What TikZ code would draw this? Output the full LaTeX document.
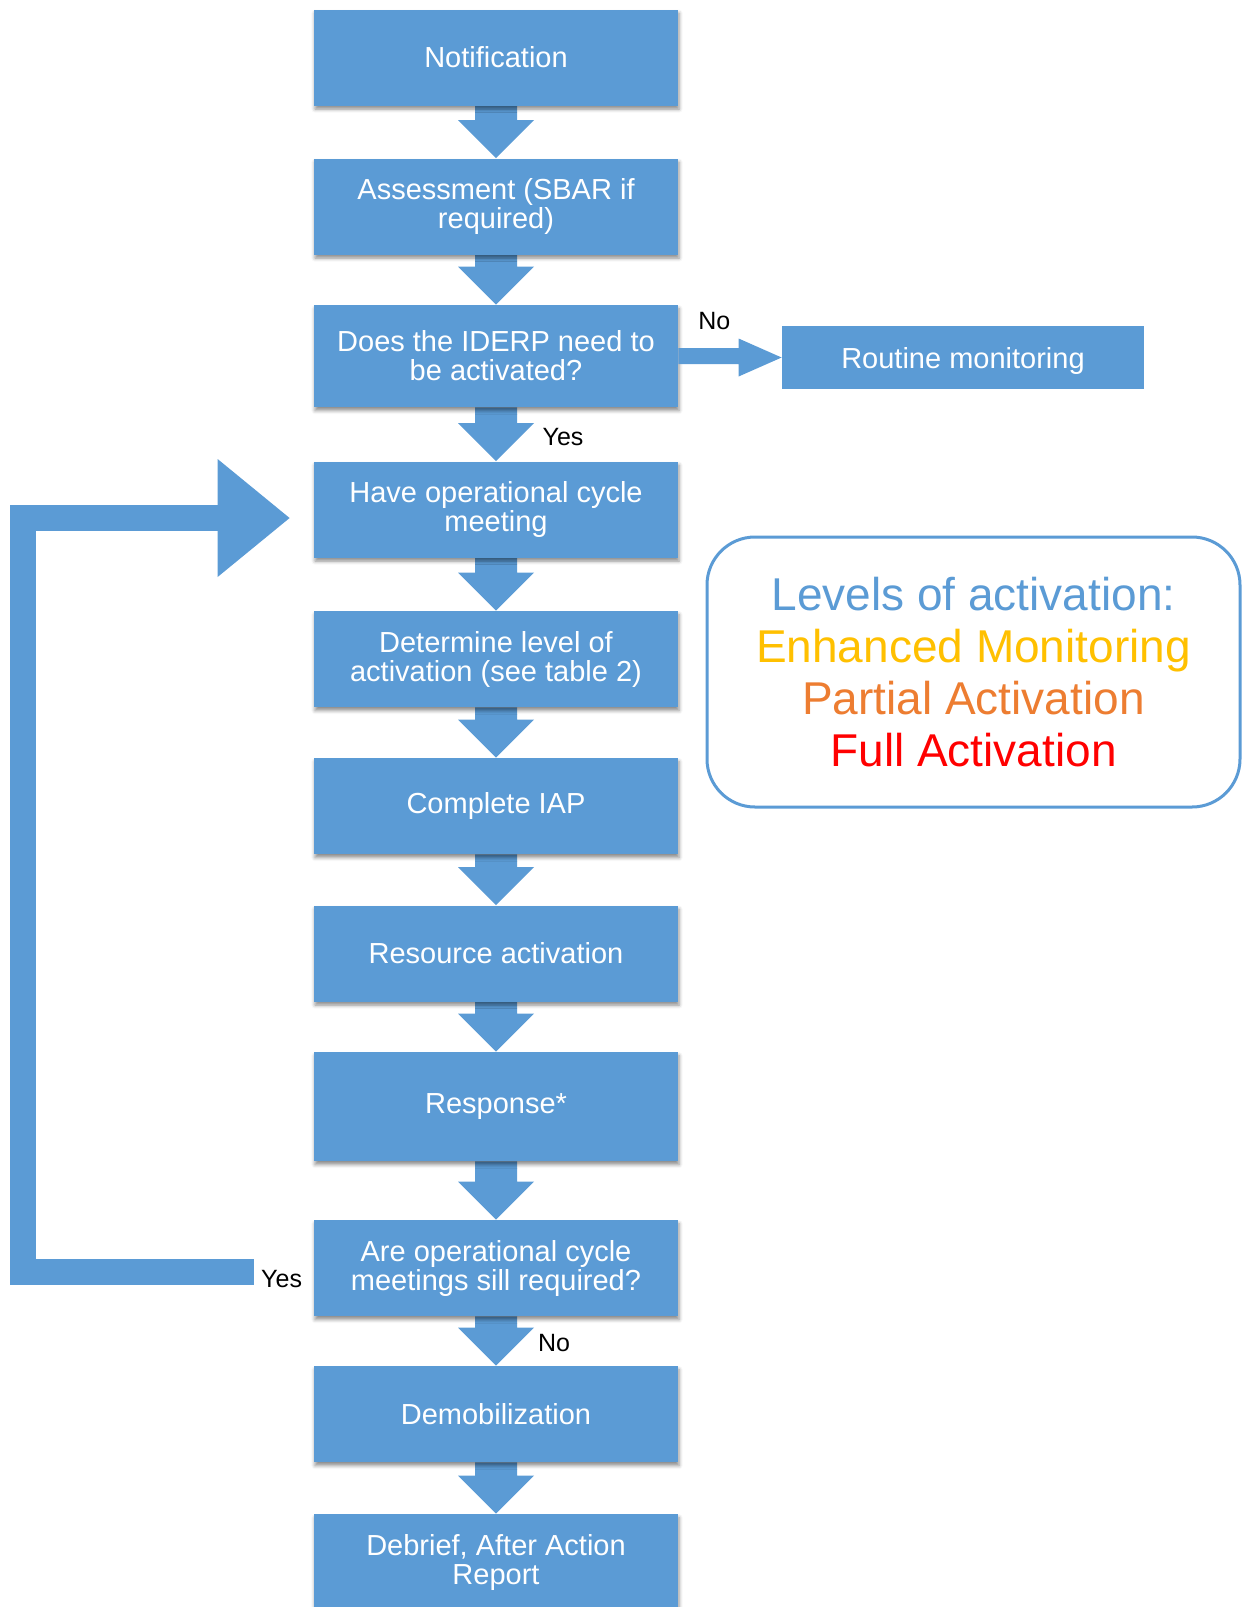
\documentclass[tikz,border=0pt]{standalone}
\usepackage{fontspec}
\setmainfont{Liberation Sans}
\usetikzlibrary{calc,shadows.blur,backgrounds}
\definecolor{boxblue}{HTML}{5B9BD5}
\definecolor{lvgold}{HTML}{FFC000}
\definecolor{lvorange}{HTML}{ED7D31}
\definecolor{lvred}{HTML}{FF0000}
\tikzset{
 stepbox/.style={fill=boxblue, text=white, minimum width=182pt, minimum height=48pt, inner sep=2pt, align=center,
   font=\fontsize{14.5}{14.5}\selectfont,
   blur shadow={shadow xshift=0.5pt, shadow yshift=-1.8pt, shadow blur radius=1.8pt, shadow opacity=45}},
 plainbox/.style={fill=boxblue, text=white, minimum width=181pt, minimum height=31.5pt, inner sep=2pt, align=center,
   text depth=0pt, font=\fontsize{14.5}{14.5}\selectfont},
 lbl/.style={text=black, font=\fontsize{12.5}{13}\selectfont, inner sep=0pt},
 arrowfill/.style={fill=boxblue},
 levelsbox/.style={draw=boxblue, fill=white, line width=1.5pt, rounded corners=24pt, minimum width=266.5pt,
   minimum height=135pt, align=center, font=\fontsize{23}{26}\selectfont},
}
\newcommand\blockdown[2]{%
  \fill[arrowfill] ($(#1.south)+(-21,0)$) -- ($(#2.north)+(-21,-38)$) -- ($(#2.north)+(-38,-38)$) -- (#2.north)
    -- ($(#2.north)+(38,-38)$) -- ($(#2.north)+(21,-38)$) -- ($(#1.south)+(21,0)$) -- cycle;}
\begin{document}
\begin{tikzpicture}[x=0.5pt, y=-0.5pt]
\useasboundingbox (0,0) rectangle (1244,1607);

\node[stepbox] (notif) at (496,57.5) {Notification};
\node[stepbox] (assess) at (496,206.5) {Assessment (SBAR if\\required)};
\node[stepbox, minimum height=51pt] (iderp) at (496,356) {Does the IDERP need to\\be activated?};
\node[stepbox] (haveop) at (496,509.5) {Have operational cycle\\meeting};
\node[stepbox] (determine) at (496,659) {Determine level of\\activation (see table 2)};
\node[stepbox] (iap) at (496,806) {Complete IAP};
\node[stepbox] (resource) at (496,953.5) {Resource activation};
\node[stepbox, minimum height=54.5pt] (response) at (496,1106.5) {Response*};
\node[stepbox] (areop) at (496,1268) {Are operational cycle\\meetings sill required?};
\node[stepbox] (demob) at (496,1414) {Demobilization};
\node[stepbox] (debrief) at (496,1562) {Debrief, After Action\\Report};

\node[plainbox] (routine) at (963,357.5) {Routine monitoring};

\node[levelsbox] (levels) at (973.5,672) {\textcolor{boxblue}{Levels of activation:}\\
  \textcolor{lvgold}{Enhanced Monitoring}\\
  \textcolor{lvorange}{Partial Activation}\\
  \textcolor{lvred}{Full Activation}};

\begin{scope}[on background layer]
\blockdown{notif}{assess}
\blockdown{assess}{iderp}
\blockdown{iderp}{haveop}
\blockdown{haveop}{determine}
\blockdown{determine}{iap}
\blockdown{iap}{resource}
\blockdown{resource}{response}
\blockdown{response}{areop}
\blockdown{areop}{demob}
\blockdown{demob}{debrief}
\end{scope}

% No arrow to routine monitoring
\coordinate (nb) at ($(routine.west)+(-43,0)$);
\coordinate (s1) at ($(iderp.east)+(0,-8)$);
\coordinate (s2) at ($(iderp.east)+(0,8)$);
\fill[arrowfill] (s1) -- (s1 -| nb) -- ($(nb)+(0,-19)$) -- (routine.west)
  -- ($(nb)+(0,19)$) -- (s2 -| nb) -- (s2) -- cycle;

% loop back arrow
\coordinate (ls) at ($(areop.west)+(-60,4)$);
\coordinate (lt) at ($(haveop.west)+(-24,8.5)$);
\coordinate (lx) at (23,0);
\coordinate (hb) at ($(lt)+(-72,0)$);
\draw[boxblue, line width=13pt] (ls) -- (ls -| lx) |- ($(hb)+(1,0)$);
\fill[arrowfill] ($(hb)+(0,-59)$) -- (lt) -- ($(hb)+(0,59)$) -- cycle;

% labels
\node[lbl] (lno1) at ($(iderp.north east)+(36,16)$) {No};
\node[lbl] (lyes1) at ($(iderp.south)+(67,30)$) {Yes};
\node[lbl] (lyes2) at ($(areop.west)+(-32,11)$) {Yes};
\node[lbl] (lno2) at ($(areop.south)+(58,27)$) {No};
\end{tikzpicture}
\end{document}
